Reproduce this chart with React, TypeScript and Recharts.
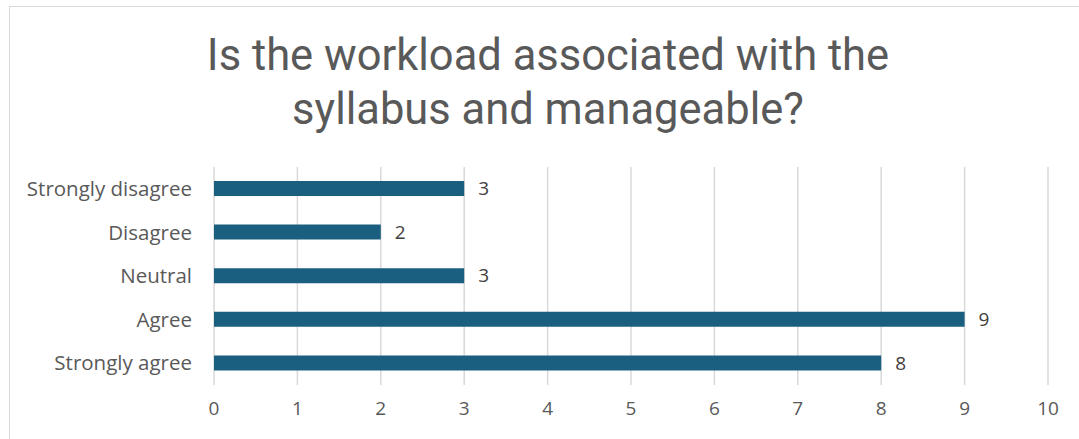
import React from 'react';
import { BarChart, Bar, XAxis, YAxis, CartesianGrid, LabelList } from 'recharts';

const categories = ['Strongly disagree', 'Disagree', 'Neutral', 'Agree', 'Strongly agree'];
const counts = [3, 2, 3, 9, 8];
const xTicks = [0, 1, 2, 3, 4, 5, 6, 7, 8, 9, 10];

const titleLines = ['Is the workload associated with the', 'syllabus and manageable?'];

const data = categories.map((name, i) => ({ name, value: counts[i] }));

const TITLE_FONT = "Roboto, 'Open Sans', sans-serif";
const FONT = "'Open Sans', Roboto, sans-serif";

const App: React.FC = () => {
  return (
    <div style={{ position: 'absolute', left: 0, top: 0, width: 1079, height: 439, overflow: 'hidden', background: '#fff' }}>
      {/* chart frame, only top/left edge visible in the crop */}
      <div style={{ position: 'absolute', left: 9, top: 6, width: 1200, height: 600, border: '1px solid #d9d9d9' }} />

      <div
        style={{
          position: 'absolute',
          left: 0,
          top: 29,
          width: 1096,
          textAlign: 'center',
          fontFamily: TITLE_FONT,
          fontSize: 43.5,
          lineHeight: '54px',
          color: '#595959',
        }}
      >
        {titleLines.map((t) => (
          <div key={t}>{t}</div>
        ))}
      </div>

      <div style={{ position: 'absolute', left: 0, top: 0 }}>
        <BarChart
          width={1079}
          height={439}
          data={data}
          layout="vertical"
          margin={{ top: 167, right: 31, left: 0, bottom: 24 }}
        >
          <CartesianGrid horizontal={false} stroke="#d9d9d9" strokeWidth={1.5} />
          <XAxis
            type="number"
            domain={[0, 10]}
            ticks={xTicks}
            axisLine={false}
            tickLine={false}
            tickSize={0}
            tickMargin={17}
            height={30}
            interval={0}
            tick={{ fill: '#595959', fontSize: 19, fontFamily: FONT }}
          />
          <YAxis
            type="category"
            dataKey="name"
            width={214}
            axisLine={false}
            tickLine={false}
            tickSize={0}
            tickMargin={22}
            interval={0}
            tick={{ fill: '#595959', fontSize: 20.5, fontFamily: FONT }}
          />
          <Bar dataKey="value" fill="#1a5e80" barSize={15} isAnimationActive={false}>
            <LabelList
              dataKey="value"
              position="right"
              offset={14}
              style={{ fill: '#404040', fontSize: 19, fontFamily: FONT }}
            />
          </Bar>
        </BarChart>
      </div>
    </div>
  );
};

export default App;
